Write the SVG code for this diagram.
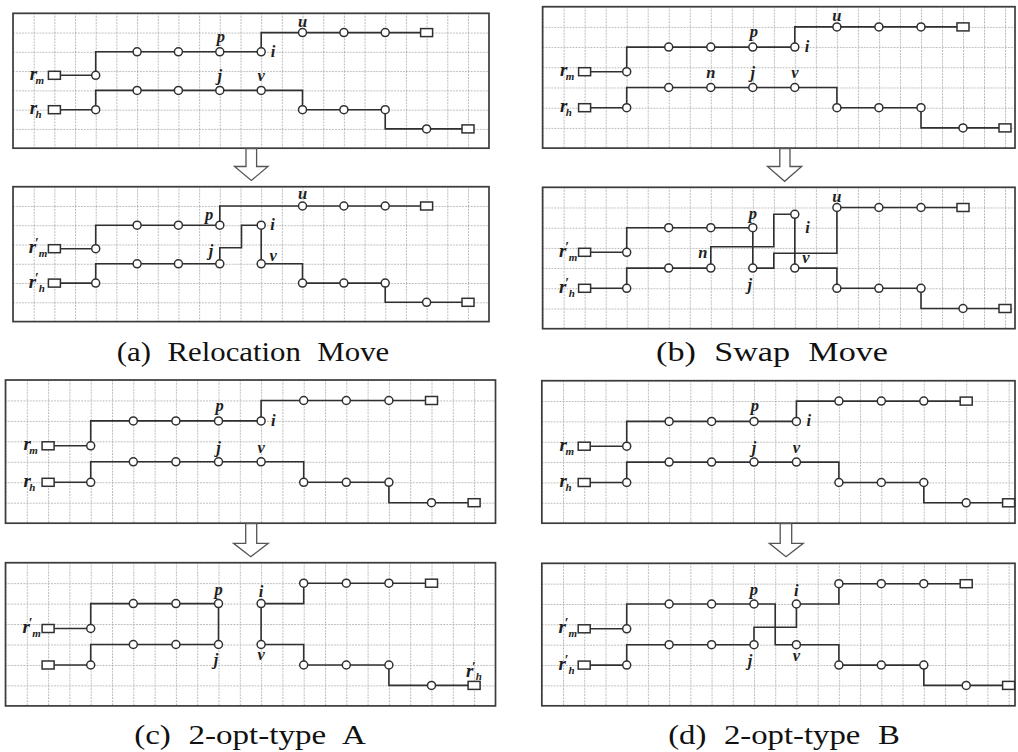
<svg xmlns="http://www.w3.org/2000/svg" width="1018" height="752" viewBox="0 0 1018 752">
<style>
.frame{stroke:#3c3c3c;stroke-width:1.7}
.gl{stroke:#b0b0b0;stroke-width:1;stroke-dasharray:1.6 1.4;fill:none}
.edge{fill:none;stroke:#303030;stroke-width:1.6}
.nd{fill:#fff;stroke:#303030;stroke-width:1.5}
.dp{fill:#fff;stroke:#303030;stroke-width:1.5}
.lb{font-family:"Liberation Serif",serif;font-style:italic;font-weight:bold;font-size:16.5px;fill:#1e1e1e;text-anchor:middle}
.ls{text-anchor:start}
.rr{font-size:19px;text-anchor:start}
.sb{font-size:11px}
.pm{font-size:14px}
.cap{font-family:"Liberation Serif",serif;font-size:28px;fill:#111;text-anchor:middle;word-spacing:8px}
.arr{fill:#fff;stroke:#555;stroke-width:1.3}
</style>
<defs>
<pattern id="grid-a" patternUnits="userSpaceOnUse" width="20.68" height="19.27"><rect width="20.68" height="19.27" fill="#fff"/><path class="gl" d="M0 0.5H20.68M0.5 0V19.27"/></pattern>
<pattern id="grid-b" patternUnits="userSpaceOnUse" width="21.02" height="20.2"><rect width="21.02" height="20.2" fill="#fff"/><path class="gl" d="M0 0.5H21.02M0.5 0V20.2"/></pattern>
<pattern id="grid-c" patternUnits="userSpaceOnUse" width="21.3" height="20.45"><rect width="21.3" height="20.45" fill="#fff"/><path class="gl" d="M0 0.5H21.3M0.5 0V20.45"/></pattern>
<pattern id="grid-d" patternUnits="userSpaceOnUse" width="21.22" height="20.35"><rect width="21.22" height="20.35" fill="#fff"/><path class="gl" d="M0 0.5H21.22M0.5 0V20.35"/></pattern>
</defs>
<rect width="1018" height="752" fill="#fff"/>

<!-- (a) relocation: before -->
<g id="a-before" transform="translate(13,13.3)">
<rect class="frame" width="476" height="134.9" fill="url(#grid-a)"/>
<g id="a-before-links">
<path class="edge" d="M41.4 62H82.7V38.5H248.2V19.3H413.6"/>
<path class="edge" d="M41.4 96.4H82.7V77.1H289.5V96.4H372.2V115.6H455"/>
</g>
<g id="a-before-rm"><rect class="dp" x="35.4" y="58" width="12" height="8"/><text class="lb rr" x="16.8" y="66.5">r<tspan class="sb" dx="-1.6" dy="4">m</tspan></text></g>
<g id="a-before-rh"><rect class="dp" x="35.4" y="92.4" width="12" height="8"/><text class="lb rr" x="16.8" y="100.9">r<tspan class="sb" dx="-1.6" dy="4">h</tspan></text></g>
<g id="a-before-p"><circle class="nd" cx="206.8" cy="38.5" r="4"/><text class="lb" x="207.8" y="28.5">p</text></g>
<g id="a-before-i"><circle class="nd" cx="248.2" cy="38.5" r="4"/><text class="lb ls" x="257.7" y="43.5">i</text></g>
<g id="a-before-u"><circle class="nd" cx="289.5" cy="19.3" r="4"/><text class="lb" x="289.5" y="13.3">u</text></g>
<g id="a-before-j"><circle class="nd" cx="206.8" cy="77.1" r="4"/><text class="lb" x="206.8" y="68.1">j</text></g>
<g id="a-before-v"><circle class="nd" cx="248.2" cy="77.1" r="4"/><text class="lb" x="248.2" y="68.1">v</text></g>
<g id="a-before-m-nodes"><circle class="nd" cx="82.7" cy="62" r="4"/><circle class="nd" cx="124.1" cy="38.5" r="4"/><circle class="nd" cx="165.4" cy="38.5" r="4"/><circle class="nd" cx="330.9" cy="19.3" r="4"/><circle class="nd" cx="372.2" cy="19.3" r="4"/><rect class="dp" x="407.6" y="15.3" width="12" height="8"/></g>
<g id="a-before-h-nodes"><circle class="nd" cx="82.7" cy="96.4" r="4"/><circle class="nd" cx="124.1" cy="77.1" r="4"/><circle class="nd" cx="165.4" cy="77.1" r="4"/><circle class="nd" cx="289.5" cy="96.4" r="4"/><circle class="nd" cx="330.9" cy="96.4" r="4"/><circle class="nd" cx="372.2" cy="96.4" r="4"/><circle class="nd" cx="413.6" cy="115.6" r="4"/><rect class="dp" x="449" y="111.6" width="12" height="8"/></g>
</g>
<path id="a-arrow" class="arr" d="M246 148.5V166.5H234.5L251.3 180.5L268 166.5H256.6V148.5Z"/>

<!-- (a) relocation: after -->
<g id="a-after" transform="translate(13,186.7)">
<rect class="frame" width="476" height="134.9" fill="url(#grid-a)"/>
<g id="a-after-links">
<path class="edge" d="M41.4 62H82.7V38.5H206.8V19.3H413.6"/>
<path class="edge" d="M41.4 96.4H82.7V77.1H206.8V61H228.5V38.5H248.2V77.1H289.5V96.4H372.2V115.6H455"/>
</g>
<g id="a-after-rm"><rect class="dp" x="35.4" y="58" width="12" height="8"/><text class="lb rr" x="15.8" y="66.5">r<tspan class="pm" dx="-1.5" dy="-5">′</tspan><tspan class="sb" dy="9">m</tspan></text></g>
<g id="a-after-rh"><rect class="dp" x="35.4" y="92.4" width="12" height="8"/><text class="lb rr" x="15.8" y="100.9">r<tspan class="pm" dx="-1.5" dy="-5">′</tspan><tspan class="sb" dy="9">h</tspan></text></g>
<g id="a-after-p"><circle class="nd" cx="206.8" cy="38.5" r="4"/><text class="lb" x="196" y="33.5">p</text></g>
<g id="a-after-i"><circle class="nd" cx="248.2" cy="38.5" r="4"/><text class="lb ls" x="257.2" y="43.5">i</text></g>
<g id="a-after-u"><circle class="nd" cx="289.5" cy="19.3" r="4"/><text class="lb" x="289.5" y="12.3">u</text></g>
<g id="a-after-j"><circle class="nd" cx="206.8" cy="77.1" r="4"/><text class="lb" x="198" y="69.1">j</text></g>
<g id="a-after-v"><circle class="nd" cx="248.2" cy="77.1" r="4"/><text class="lb" x="260.2" y="74.1">v</text></g>
<g id="a-after-m-nodes"><circle class="nd" cx="82.7" cy="62" r="4"/><circle class="nd" cx="124.1" cy="38.5" r="4"/><circle class="nd" cx="165.4" cy="38.5" r="4"/><circle class="nd" cx="330.9" cy="19.3" r="4"/><circle class="nd" cx="372.2" cy="19.3" r="4"/><rect class="dp" x="407.6" y="15.3" width="12" height="8"/></g>
<g id="a-after-h-nodes"><circle class="nd" cx="82.7" cy="96.4" r="4"/><circle class="nd" cx="124.1" cy="77.1" r="4"/><circle class="nd" cx="165.4" cy="77.1" r="4"/><circle class="nd" cx="289.5" cy="96.4" r="4"/><circle class="nd" cx="330.9" cy="96.4" r="4"/><circle class="nd" cx="372.2" cy="96.4" r="4"/><circle class="nd" cx="413.6" cy="115.6" r="4"/><rect class="dp" x="449" y="111.6" width="12" height="8"/></g>
</g>
<text class="cap" transform="translate(253 361) scale(1.1 1)">(a) Relocation Move</text>

<!-- (b) swap: before -->
<g id="b-before" transform="translate(542.6,6.7)">
<rect class="frame" width="472.4" height="141.4" fill="url(#grid-b)"/>
<g id="b-before-links">
<path class="edge" d="M42 65H84.1V40.4H252.2V20.2H420.4"/>
<path class="edge" d="M42 101H84.1V80.8H294.3V101H378.4V121.2H462.4"/>
</g>
<g id="b-before-rm"><rect class="dp" x="36" y="61" width="12" height="8"/><text class="lb rr" x="17.4" y="69.5">r<tspan class="sb" dx="-1.6" dy="4">m</tspan></text></g>
<g id="b-before-rh"><rect class="dp" x="36" y="97" width="12" height="8"/><text class="lb rr" x="17.4" y="105.5">r<tspan class="sb" dx="-1.6" dy="4">h</tspan></text></g>
<g id="b-before-p"><circle class="nd" cx="210.2" cy="40.4" r="4"/><text class="lb" x="211.2" y="30.4">p</text></g>
<g id="b-before-i"><circle class="nd" cx="252.2" cy="40.4" r="4"/><text class="lb ls" x="262.2" y="45.5">i</text></g>
<g id="b-before-u"><circle class="nd" cx="294.3" cy="20.2" r="4"/><text class="lb" x="294.3" y="14.2">u</text></g>
<g id="b-before-n"><circle class="nd" cx="168.2" cy="80.8" r="4"/><text class="lb" x="168.2" y="71.3">n</text></g>
<g id="b-before-j"><circle class="nd" cx="210.2" cy="80.8" r="4"/><text class="lb" x="210.2" y="71.3">j</text></g>
<g id="b-before-v"><circle class="nd" cx="252.2" cy="80.8" r="4"/><text class="lb" x="252.2" y="71.3">v</text></g>
<g id="b-before-m-nodes"><circle class="nd" cx="84.1" cy="65" r="4"/><circle class="nd" cx="126.1" cy="40.4" r="4"/><circle class="nd" cx="168.2" cy="40.4" r="4"/><circle class="nd" cx="336.3" cy="20.2" r="4"/><circle class="nd" cx="378.4" cy="20.2" r="4"/><rect class="dp" x="414.4" y="16.2" width="12" height="8"/></g>
<g id="b-before-h-nodes"><circle class="nd" cx="84.1" cy="101" r="4"/><circle class="nd" cx="126.1" cy="80.8" r="4"/><circle class="nd" cx="294.3" cy="101" r="4"/><circle class="nd" cx="336.3" cy="101" r="4"/><circle class="nd" cx="378.4" cy="101" r="4"/><circle class="nd" cx="420.4" cy="121.2" r="4"/><rect class="dp" x="456.4" y="117.2" width="12" height="8"/></g>
</g>
<path id="b-arrow" class="arr" d="M779.8 148.5V166.5H767.5L784.6 181.3L801.7 166.5H790V148.5Z"/>

<!-- (b) swap: after -->
<g id="b-after" transform="translate(542.6,187.3)">
<rect class="frame" width="472.4" height="141.4" fill="url(#grid-b)"/>
<g id="b-after-links">
<path class="edge" d="M42 65H84.1V40.4H210.2V80.8H231.2V66H294.3V20.2H420.4"/>
<path class="edge" d="M42 101H84.1V80.8H168.2V59.4H231.2V27H252.2V80.8H294.3V101H378.4V121.2H462.4"/>
</g>
<g id="b-after-rm"><rect class="dp" x="36" y="61" width="12" height="8"/><text class="lb rr" x="16.4" y="69.5">r<tspan class="pm" dx="-1.5" dy="-5">′</tspan><tspan class="sb" dy="9">m</tspan></text></g>
<g id="b-after-rh"><rect class="dp" x="36" y="97" width="12" height="8"/><text class="lb rr" x="16.4" y="105.5">r<tspan class="pm" dx="-1.5" dy="-5">′</tspan><tspan class="sb" dy="9">h</tspan></text></g>
<g id="b-after-p"><circle class="nd" cx="210.2" cy="40.4" r="4"/><text class="lb" x="210.2" y="31.4">p</text></g>
<g id="b-after-i"><circle class="nd" cx="252.2" cy="27" r="4"/><text class="lb ls" x="262.7" y="46">i</text></g>
<g id="b-after-u"><circle class="nd" cx="294.3" cy="20.2" r="4"/><text class="lb" x="294.3" y="14.2">u</text></g>
<g id="b-after-n"><circle class="nd" cx="168.2" cy="80.8" r="4"/><text class="lb" x="160.2" y="70.8">n</text></g>
<g id="b-after-j"><circle class="nd" cx="210.2" cy="80.8" r="4"/><text class="lb" x="207.2" y="102.8">j</text></g>
<g id="b-after-v"><circle class="nd" cx="252.2" cy="80.8" r="4"/><text class="lb" x="263.2" y="75.8">v</text></g>
<g id="b-after-m-nodes"><circle class="nd" cx="84.1" cy="65" r="4"/><circle class="nd" cx="126.1" cy="40.4" r="4"/><circle class="nd" cx="168.2" cy="40.4" r="4"/><circle class="nd" cx="336.3" cy="20.2" r="4"/><circle class="nd" cx="378.4" cy="20.2" r="4"/><rect class="dp" x="414.4" y="16.2" width="12" height="8"/></g>
<g id="b-after-h-nodes"><circle class="nd" cx="84.1" cy="101" r="4"/><circle class="nd" cx="126.1" cy="80.8" r="4"/><circle class="nd" cx="294.3" cy="101" r="4"/><circle class="nd" cx="336.3" cy="101" r="4"/><circle class="nd" cx="378.4" cy="101" r="4"/><circle class="nd" cx="420.4" cy="121.2" r="4"/><rect class="dp" x="456.4" y="117.2" width="12" height="8"/></g>
</g>
<text class="cap" transform="translate(772 361) scale(1.22 1)">(b) Swap Move</text>

<!-- (c) 2-opt type A: before -->
<g id="c-before" transform="translate(5.5,380)">
<rect class="frame" width="490" height="143.2" fill="url(#grid-c)"/>
<g id="c-before-links">
<path class="edge" d="M42.6 65.8H85.2V40.9H255.6V20.5H426"/>
<path class="edge" d="M42.6 102.3H85.2V81.8H298.2V102.3H383.4V122.7H468.6"/>
</g>
<g id="c-before-rm"><rect class="dp" x="36.6" y="61.8" width="12" height="8"/><text class="lb rr" x="18" y="70.3">r<tspan class="sb" dx="-1.6" dy="4">m</tspan></text></g>
<g id="c-before-rh"><rect class="dp" x="36.6" y="98.3" width="12" height="8"/><text class="lb rr" x="18" y="106.8">r<tspan class="sb" dx="-1.6" dy="4">h</tspan></text></g>
<g id="c-before-p"><circle class="nd" cx="213" cy="40.9" r="4"/><text class="lb" x="214" y="31.4">p</text></g>
<g id="c-before-i"><circle class="nd" cx="255.6" cy="40.9" r="4"/><text class="lb ls" x="265.6" y="46">i</text></g>
<g id="c-before-j"><circle class="nd" cx="213" cy="81.8" r="4"/><text class="lb" x="213" y="72.8">j</text></g>
<g id="c-before-v"><circle class="nd" cx="255.6" cy="81.8" r="4"/><text class="lb" x="255.6" y="72.8">v</text></g>
<g id="c-before-m-nodes"><circle class="nd" cx="85.2" cy="65.8" r="4"/><circle class="nd" cx="127.8" cy="40.9" r="4"/><circle class="nd" cx="170.4" cy="40.9" r="4"/><circle class="nd" cx="298.2" cy="20.5" r="4"/><circle class="nd" cx="340.8" cy="20.5" r="4"/><circle class="nd" cx="383.4" cy="20.5" r="4"/><rect class="dp" x="420" y="16.5" width="12" height="8"/></g>
<g id="c-before-h-nodes"><circle class="nd" cx="85.2" cy="102.3" r="4"/><circle class="nd" cx="127.8" cy="81.8" r="4"/><circle class="nd" cx="170.4" cy="81.8" r="4"/><circle class="nd" cx="298.2" cy="102.3" r="4"/><circle class="nd" cx="340.8" cy="102.3" r="4"/><circle class="nd" cx="383.4" cy="102.3" r="4"/><circle class="nd" cx="426" cy="122.7" r="4"/><rect class="dp" x="462.6" y="118.7" width="12" height="8"/></g>
</g>
<path id="c-arrow" class="arr" d="M245.7 523.5V543.3H233.5L250.8 556.7L268.2 543.3H256.7V523.5Z"/>

<!-- (c) 2-opt type A: after -->
<g id="c-after" transform="translate(5.5,562.7)">
<rect class="frame" width="490" height="143.2" fill="url(#grid-c)"/>
<g id="c-after-links">
<path class="edge" d="M42.6 65.8H85.2V40.9H213V81.8H85.2V102.3H42.6"/>
<path class="edge" d="M426 20.5H298.2V40.9H255.6V81.8H298.2V102.3H383.4V122.7H468.6"/>
</g>
<g id="c-after-rm"><rect class="dp" x="36.6" y="61.8" width="12" height="8"/><text class="lb rr" x="17" y="70.3">r<tspan class="pm" dx="-1.5" dy="-5">′</tspan><tspan class="sb" dy="9">m</tspan></text></g>
<g id="c-after-depot"><rect class="dp" x="36.6" y="98.3" width="12" height="8"/></g>
<g id="c-after-p"><circle class="nd" cx="213" cy="40.9" r="4"/><text class="lb" x="213" y="31.9">p</text></g>
<g id="c-after-i"><circle class="nd" cx="255.6" cy="40.9" r="4"/><text class="lb" x="255.6" y="33.9">i</text></g>
<g id="c-after-j"><circle class="nd" cx="213" cy="81.8" r="4"/><text class="lb" x="210.5" y="102.8">j</text></g>
<g id="c-after-v"><circle class="nd" cx="255.6" cy="81.8" r="4"/><text class="lb" x="255.6" y="97.3">v</text></g>
<g id="c-after-m-nodes"><circle class="nd" cx="85.2" cy="65.8" r="4"/><circle class="nd" cx="127.8" cy="40.9" r="4"/><circle class="nd" cx="170.4" cy="40.9" r="4"/><circle class="nd" cx="170.4" cy="81.8" r="4"/><circle class="nd" cx="127.8" cy="81.8" r="4"/><circle class="nd" cx="85.2" cy="102.3" r="4"/></g>
<g id="c-after-h-nodes"><rect class="dp" x="420" y="16.5" width="12" height="8"/><circle class="nd" cx="298.2" cy="20.5" r="4"/><circle class="nd" cx="340.8" cy="20.5" r="4"/><circle class="nd" cx="383.4" cy="20.5" r="4"/><circle class="nd" cx="298.2" cy="102.3" r="4"/><circle class="nd" cx="340.8" cy="102.3" r="4"/><circle class="nd" cx="383.4" cy="102.3" r="4"/><circle class="nd" cx="426" cy="122.7" r="4"/></g>
<g id="c-after-rh"><rect class="dp" x="462.6" y="118.7" width="12" height="8"/><text class="lb rr" x="460.4" y="114.2">r<tspan class="pm" dx="-1.5" dy="-5">′</tspan><tspan class="sb" dy="8.5">h</tspan></text></g>
</g>
<text class="cap" transform="translate(250 744) scale(1.18 1)">(c) 2-opt-type A</text>

<!-- (d) 2-opt type B: before -->
<g id="d-before" transform="translate(541.8,380.7)">
<rect class="frame" width="473.2" height="142.5" fill="url(#grid-d)"/>
<g id="d-before-links">
<path class="edge" d="M42.4 65.5H84.9V40.7H254.6V20.4H424.4"/>
<path class="edge" d="M42.4 101.8H84.9V81.4H297.1V101.8H382V122.1H466.8"/>
</g>
<g id="d-before-rm"><rect class="dp" x="36.4" y="61.5" width="12" height="8"/><text class="lb rr" x="17.8" y="70">r<tspan class="sb" dx="-1.6" dy="4">m</tspan></text></g>
<g id="d-before-rh"><rect class="dp" x="36.4" y="97.8" width="12" height="8"/><text class="lb rr" x="17.8" y="106.3">r<tspan class="sb" dx="-1.6" dy="4">h</tspan></text></g>
<g id="d-before-p"><circle class="nd" cx="212.2" cy="40.7" r="4"/><text class="lb" x="213.2" y="30.7">p</text></g>
<g id="d-before-i"><circle class="nd" cx="254.6" cy="40.7" r="4"/><text class="lb ls" x="264.6" y="45.7">i</text></g>
<g id="d-before-j"><circle class="nd" cx="212.2" cy="81.4" r="4"/><text class="lb" x="212.2" y="72.4">j</text></g>
<g id="d-before-v"><circle class="nd" cx="254.6" cy="81.4" r="4"/><text class="lb" x="254.6" y="72.4">v</text></g>
<g id="d-before-m-nodes"><circle class="nd" cx="84.9" cy="65.5" r="4"/><circle class="nd" cx="127.3" cy="40.7" r="4"/><circle class="nd" cx="169.8" cy="40.7" r="4"/><circle class="nd" cx="297.1" cy="20.4" r="4"/><circle class="nd" cx="339.5" cy="20.4" r="4"/><circle class="nd" cx="382" cy="20.4" r="4"/><rect class="dp" x="418.4" y="16.4" width="12" height="8"/></g>
<g id="d-before-h-nodes"><circle class="nd" cx="84.9" cy="101.8" r="4"/><circle class="nd" cx="127.3" cy="81.4" r="4"/><circle class="nd" cx="169.8" cy="81.4" r="4"/><circle class="nd" cx="297.1" cy="101.8" r="4"/><circle class="nd" cx="339.5" cy="101.8" r="4"/><circle class="nd" cx="382" cy="101.8" r="4"/><circle class="nd" cx="424.4" cy="122.1" r="4"/><rect class="dp" x="460.8" y="118.1" width="12" height="8"/></g>
</g>
<path id="d-arrow" class="arr" d="M780.2 523.5V543.3H769.3L786 556.7L803.3 543.3H791.7V523.5Z"/>

<!-- (d) 2-opt type B: after -->
<g id="d-after" transform="translate(541.8,563.3)">
<rect class="frame" width="473.2" height="142.5" fill="url(#grid-d)"/>
<g id="d-after-links">
<path class="edge" d="M42.4 65.5H84.9V40.7H233.4V81.4H297.1V101.8H382V122.1H466.8"/>
<path class="edge" d="M42.4 101.8H84.9V81.4H212.2V64H254.6V40.7H297.1V20.4H424.4"/>
</g>
<g id="d-after-rm"><rect class="dp" x="36.4" y="61.5" width="12" height="8"/><text class="lb rr" x="16.8" y="70">r<tspan class="pm" dx="-1.5" dy="-5">′</tspan><tspan class="sb" dy="9">m</tspan></text></g>
<g id="d-after-rh"><rect class="dp" x="36.4" y="97.8" width="12" height="8"/><text class="lb rr" x="16.8" y="106.3">r<tspan class="pm" dx="-1.5" dy="-5">′</tspan><tspan class="sb" dy="9">h</tspan></text></g>
<g id="d-after-p"><circle class="nd" cx="212.2" cy="40.7" r="4"/><text class="lb" x="212.2" y="32.2">p</text></g>
<g id="d-after-i"><circle class="nd" cx="254.6" cy="40.7" r="4"/><text class="lb" x="254.6" y="33">i</text></g>
<g id="d-after-j"><circle class="nd" cx="212.2" cy="81.4" r="4"/><text class="lb" x="208.2" y="102.4">j</text></g>
<g id="d-after-v"><circle class="nd" cx="254.6" cy="81.4" r="4"/><text class="lb" x="254.6" y="97.4">v</text></g>
<g id="d-after-m-nodes"><circle class="nd" cx="84.9" cy="65.5" r="4"/><circle class="nd" cx="127.3" cy="40.7" r="4"/><circle class="nd" cx="169.8" cy="40.7" r="4"/><circle class="nd" cx="297.1" cy="101.8" r="4"/><circle class="nd" cx="339.5" cy="101.8" r="4"/><circle class="nd" cx="382" cy="101.8" r="4"/><circle class="nd" cx="424.4" cy="122.1" r="4"/><rect class="dp" x="460.8" y="118.1" width="12" height="8"/></g>
<g id="d-after-h-nodes"><circle class="nd" cx="84.9" cy="101.8" r="4"/><circle class="nd" cx="127.3" cy="81.4" r="4"/><circle class="nd" cx="169.8" cy="81.4" r="4"/><circle class="nd" cx="297.1" cy="20.4" r="4"/><circle class="nd" cx="339.5" cy="20.4" r="4"/><circle class="nd" cx="382" cy="20.4" r="4"/><rect class="dp" x="418.4" y="16.4" width="12" height="8"/></g>
</g>
<text class="cap" transform="translate(784 744) scale(1.17 1)">(d) 2-opt-type B</text>
</svg>
